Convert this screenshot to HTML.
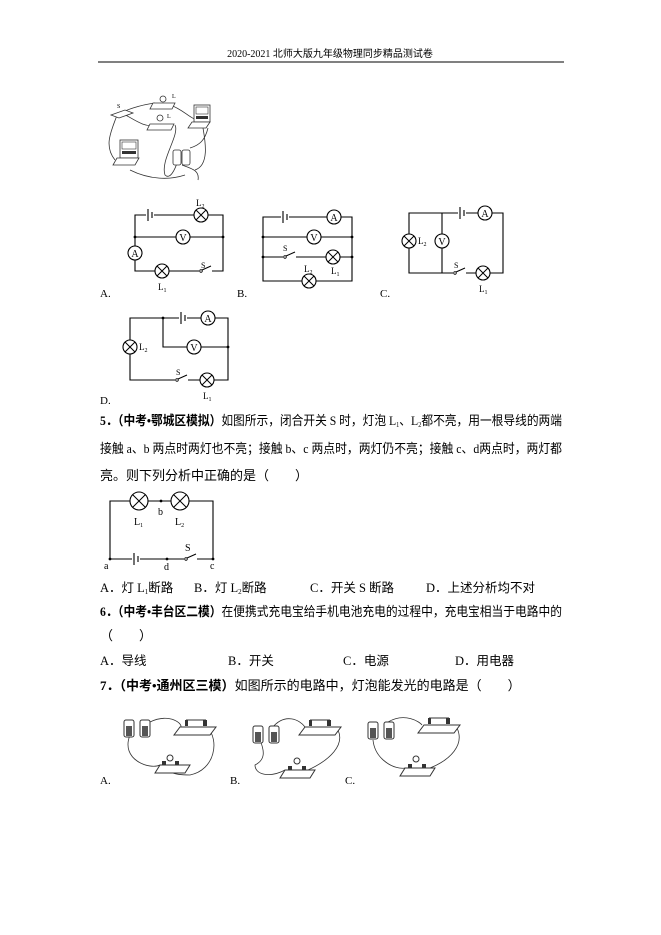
<!DOCTYPE html>
<html><head><meta charset="utf-8"><style>
html,body{margin:0;padding:0;background:#fff;}
svg{display:block;}
text{font-family:"Liberation Serif","Noto Serif CJK SC","Noto Sans CJK SC",serif;fill:#000;}
.cn{font-family:"Liberation Serif","Noto Sans CJK SC",sans-serif;}
.w{fill:none;stroke:#000;stroke-width:1.1;}
.g{fill:none;stroke:#333;stroke-width:0.8;}
</style></head><body>
<svg width="661" height="935" viewBox="0 0 661 935" xmlns="http://www.w3.org/2000/svg">
<defs>
<g id="lamp"><circle r="7" fill="#fff" stroke="#000" stroke-width="1.1"/><path d="M-5,-5L5,5M5,-5L-5,5" stroke="#000" stroke-width="1"/></g>
<g id="met"><circle r="7" fill="#fff" stroke="#000" stroke-width="1.1"/></g>
<g id="lampb"><circle r="9" fill="#fff" stroke="#000" stroke-width="1.1"/><path d="M-6.4,-6.4L6.4,6.4M6.4,-6.4L-6.4,6.4" stroke="#000" stroke-width="1"/></g>
<g id="bat"><rect x="-4" y="-6" width="8" height="12" fill="#fff"/><path d="M-2,-6V6M2,-3V3" stroke="#000" stroke-width="1.1"/></g>
<g id="sw"><rect x="0" y="-5" width="13" height="8" fill="#fff"/><circle cx="2" cy="0" r="1.3" fill="#fff" stroke="#000" stroke-width="0.8"/><path d="M3,-1L12,-5" stroke="#000" stroke-width="1"/></g>
</defs>

<text x="330" y="57" font-size="10" text-anchor="middle" class="cn">2020-2021 北师大版九年级物理同步精品测试卷</text>
<line x1="98" y1="62" x2="564" y2="62" stroke="#000" stroke-width="1"/>

<g>
<path class="g" d="M117,115 C125,110 140,105 155,103 M170,105 C185,110 190,120 200,120 M117,115 C112,130 103,145 115,160 M122,113 C135,120 145,128 155,125 M175,125 C180,135 160,160 165,175 C170,180 175,170 178,160 M208,128 C205,140 200,145 190,148 M203,128 C205,140 210,165 195,170 M130,170 C150,180 170,180 185,175 M182,165 C190,168 200,170 198,180"/>
<path d="M111,115 L125,110 L133,113 L119,118Z" fill="#fff" stroke="#333" stroke-width="0.8"/>
<path d="M153,103 L175,103 L172,109 L150,109Z" fill="#fff" stroke="#333" stroke-width="0.8"/>
<circle cx="163" cy="99" r="3" fill="#fff" stroke="#333" stroke-width="0.8"/>
<text x="172" y="98" font-size="6">L</text>
<path d="M150,124 L174,124 L171,130 L147,130Z" fill="#fff" stroke="#333" stroke-width="0.8"/>
<circle cx="160" cy="118" r="3" fill="#fff" stroke="#333" stroke-width="0.8"/>
<text x="167" y="118" font-size="6">L</text>
<text x="117" y="108" font-size="6">S</text>
<rect x="194" y="105" width="16" height="17" fill="#fff" stroke="#333" stroke-width="0.8"/>
<rect x="196" y="107" width="12" height="7" fill="#fff" stroke="#333" stroke-width="0.6"/>
<rect x="196" y="116" width="12" height="3" fill="#333"/>
<path d="M192,122 L210,122 L206,128 L188,128Z" fill="#fff" stroke="#333" stroke-width="0.8"/>
<rect x="120" y="140" width="18" height="18" fill="#fff" stroke="#333" stroke-width="0.8"/>
<rect x="122" y="142" width="14" height="7" fill="#fff" stroke="#333" stroke-width="0.6"/>
<rect x="122" y="151" width="14" height="3" fill="#333"/>
<path d="M117,158 L139,158 L135,165 L113,165Z" fill="#fff" stroke="#333" stroke-width="0.8"/>
<rect x="173" y="150" width="8" height="15" rx="2" fill="#fff" stroke="#333" stroke-width="0.8"/>
<rect x="182" y="150" width="8" height="15" rx="2" fill="#fff" stroke="#333" stroke-width="0.8"/>
</g>

<g>
<path class="w" d="M135,215H223V271H135ZM135,237H223"/>
<use href="#bat" x="150" y="215"/>
<use href="#lamp" x="201" y="215"/>
<use href="#met" x="183" y="237"/><text x="183" y="241" font-size="10" text-anchor="middle">V</text>
<use href="#met" x="135" y="253"/><text x="135" y="257" font-size="10" text-anchor="middle">A</text>
<use href="#lamp" x="162" y="271"/>
<use href="#sw" x="199" y="271"/>
<circle cx="135" cy="237" r="1.4"/><circle cx="223" cy="237" r="1.4"/>
<text x="196" y="206" font-size="9">L<tspan font-size="6" dy="2">2</tspan></text>
<text x="158" y="290" font-size="9">L<tspan font-size="6" dy="2">1</tspan></text>
<text x="201" y="268" font-size="8">S</text>
<text x="100" y="297" font-size="11">A.</text>
</g>

<g>
<path class="w" d="M263,217H352V281H263ZM263,237H352M263,257H352"/>
<use href="#bat" x="285" y="217"/>
<use href="#met" x="334" y="217"/><text x="334" y="221" font-size="10" text-anchor="middle">A</text>
<use href="#met" x="314" y="237"/><text x="314" y="241" font-size="10" text-anchor="middle">V</text>
<use href="#sw" x="283" y="257"/>
<use href="#lamp" x="333" y="257"/>
<use href="#lamp" x="309" y="281"/>
<circle cx="263" cy="237" r="1.4"/><circle cx="352" cy="237" r="1.4"/><circle cx="263" cy="257" r="1.4"/><circle cx="352" cy="257" r="1.4"/>
<text x="283" y="251" font-size="8">S</text>
<text x="304" y="272" font-size="9">L<tspan font-size="6" dy="2">2</tspan></text>
<text x="331" y="274" font-size="9">L<tspan font-size="6" dy="2">1</tspan></text>
<text x="237" y="297" font-size="11">B.</text>
</g>

<g>
<path class="w" d="M409,213H503V273H409ZM442,213V273"/>
<use href="#bat" x="462" y="213"/>
<use href="#met" x="485" y="213"/><text x="485" y="217" font-size="10" text-anchor="middle">A</text>
<use href="#lamp" x="409" y="241"/>
<use href="#met" x="442" y="241"/><text x="442" y="245" font-size="10" text-anchor="middle">V</text>
<text x="418" y="244" font-size="9">L<tspan font-size="6" dy="2">2</tspan></text>
<use href="#sw" x="453" y="273"/>
<use href="#lamp" x="483" y="273"/>
<text x="454" y="268" font-size="8">S</text>
<text x="479" y="292" font-size="9">L<tspan font-size="6" dy="2">1</tspan></text>
<text x="380" y="297" font-size="11">C.</text>
</g>

<g>
<path class="w" d="M130,318H228V380H130ZM163,318V347H228"/>
<use href="#bat" x="183" y="318"/>
<use href="#met" x="208" y="318"/><text x="208" y="322" font-size="10" text-anchor="middle">A</text>
<use href="#lamp" x="130" y="347"/>
<text x="139" y="350" font-size="9">L<tspan font-size="6" dy="2">2</tspan></text>
<use href="#met" x="194" y="347"/><text x="194" y="351" font-size="10" text-anchor="middle">V</text>
<circle cx="163" cy="318" r="1.4"/><circle cx="228" cy="347" r="1.4"/>
<use href="#sw" x="175" y="380"/>
<text x="176" y="375" font-size="8">S</text>
<use href="#lamp" x="207" y="380"/>
<text x="203" y="399" font-size="9">L<tspan font-size="6" dy="2">1</tspan></text>
<text x="100" y="404" font-size="11">D.</text>
</g>

<text x="100" y="425" font-size="13" class="cn" textLength="462" lengthAdjust="spacingAndGlyphs"><tspan font-weight="bold">5．（中考•鄂城区模拟）</tspan>如图所示，闭合开关 S 时，灯泡 L<tspan font-size="7" dy="2">1</tspan><tspan dy="-2">、L</tspan><tspan font-size="7" dy="2">2</tspan><tspan dy="-2">都不亮，用一根导线的两端</tspan></text>
<text x="100" y="453" font-size="13" class="cn" textLength="462" lengthAdjust="spacingAndGlyphs">接触 a、b 两点时两灯也不亮；接触 b、c 两点时，两灯仍不亮；接触 c、d两点时，两灯都</text>
<text x="100" y="480" font-size="13" class="cn">亮。则下列分析中正确的是（　　）</text>

<g>
<path class="w" d="M110,501H213V559H110Z"/>
<use href="#lampb" x="139" y="501"/>
<use href="#lampb" x="180" y="501"/>
<circle cx="161" cy="501" r="1.4"/>
<use href="#bat" x="136" y="559"/>
<circle cx="110" cy="559" r="1.4"/><circle cx="167" cy="559" r="1.4"/><circle cx="213" cy="559" r="1.4"/>
<use href="#sw" x="184" y="559"/>
<text x="158" y="515" font-size="10">b</text>
<text x="134" y="525" font-size="10">L<tspan font-size="6" dy="2">1</tspan></text>
<text x="175" y="525" font-size="10">L<tspan font-size="6" dy="2">2</tspan></text>
<text x="185" y="551" font-size="10">S</text>
<text x="104" y="569" font-size="10">a</text>
<text x="164" y="570" font-size="10">d</text>
<text x="210" y="569" font-size="10">c</text>
</g>

<text x="100" y="592" font-size="12.5" class="cn">A．灯 L<tspan font-size="7" dy="2">1</tspan><tspan dy="-2">断路</tspan></text>
<text x="194" y="592" font-size="12.5" class="cn">B．灯 L<tspan font-size="7" dy="2">2</tspan><tspan dy="-2">断路</tspan></text>
<text x="310" y="592" font-size="12.5" class="cn">C．开关 S 断路</text>
<text x="426" y="592" font-size="12.5" class="cn">D．上述分析均不对</text>

<text x="100" y="616" font-size="13" class="cn" textLength="462" lengthAdjust="spacingAndGlyphs"><tspan font-weight="bold">6．（中考•丰台区二模）</tspan>在便携式充电宝给手机电池充电的过程中，充电宝相当于电路中的</text>
<text x="100" y="640" font-size="13" class="cn">（　　）</text>
<text x="100" y="665" font-size="12.5" class="cn">A．导线</text>
<text x="228" y="665" font-size="12.5" class="cn">B．开关</text>
<text x="343" y="665" font-size="12.5" class="cn">C．电源</text>
<text x="455" y="665" font-size="12.5" class="cn">D．用电器</text>
<text x="100" y="690" font-size="13" class="cn"><tspan font-weight="bold">7．（中考•通州区三模）</tspan>如图所示的电路中，灯泡能发光的电路是（　　）</text>

<g>
<path class="g" d="M130,735 C120,760 150,770 160,765 M150,722 C170,712 185,725 180,728 M207,727 C220,740 215,770 190,775 C170,775 165,770 170,767"/>
<rect x="124" y="720" width="10" height="17" rx="2" fill="#fff" stroke="#333"/><rect x="126" y="726" width="6" height="10" fill="#555"/>
<rect x="140" y="720" width="10" height="17" rx="2" fill="#fff" stroke="#333"/><rect x="142" y="726" width="6" height="10" fill="#555"/>
<path d="M180,727 L216,727 L210,735 L174,735Z" fill="#fff" stroke="#333"/>
<rect x="185" y="720" width="3" height="6" fill="#333"/><rect x="203" y="720" width="4" height="6" fill="#333"/><path d="M186,720H206" stroke="#333"/>
<path d="M160,765 L190,765 L185,773 L155,773Z" fill="#fff" stroke="#333"/>
<circle cx="170" cy="758" r="3" fill="#fff" stroke="#333"/><rect x="162" y="761" width="4" height="4" fill="#333"/><rect x="175" y="761" width="4" height="4" fill="#333"/>
<text x="100" y="784" font-size="11">A.</text>
</g>
<g>
<path class="g" d="M260,740 C265,752 265,760 255,765 C255,775 270,778 285,770 M272,728 C285,712 300,720 305,727 M338,730 C345,745 330,760 308,770"/>
<rect x="253" y="726" width="10" height="17" rx="2" fill="#fff" stroke="#333"/><rect x="255" y="732" width="6" height="10" fill="#555"/>
<rect x="269" y="726" width="10" height="17" rx="2" fill="#fff" stroke="#333"/><rect x="271" y="732" width="6" height="10" fill="#555"/>
<path d="M305,727 L341,727 L335,735 L299,735Z" fill="#fff" stroke="#333"/>
<rect x="309" y="720" width="3" height="6" fill="#333"/><rect x="327" y="720" width="4" height="6" fill="#333"/><path d="M310,720H330" stroke="#333"/>
<path d="M285,770 L315,770 L310,778 L280,778Z" fill="#fff" stroke="#333"/>
<circle cx="297" cy="761" r="3" fill="#fff" stroke="#333"/><rect x="288" y="766" width="4" height="4" fill="#333"/><rect x="302" y="766" width="4" height="4" fill="#333"/>
<text x="230" y="784" font-size="11">B.</text>
</g>
<g>
<path class="g" d="M373,740 C375,760 395,770 405,768 M388,722 C405,712 420,722 422,725 M457,728 C465,745 450,760 430,768"/>
<rect x="368" y="722" width="10" height="17" rx="2" fill="#fff" stroke="#333"/><rect x="370" y="728" width="6" height="10" fill="#555"/>
<rect x="384" y="722" width="10" height="17" rx="2" fill="#fff" stroke="#333"/><rect x="386" y="728" width="6" height="10" fill="#555"/>
<path d="M424,725 L460,725 L454,733 L418,733Z" fill="#fff" stroke="#333"/>
<rect x="428" y="718" width="3" height="6" fill="#333"/><rect x="446" y="718" width="4" height="6" fill="#333"/><path d="M429,718H449" stroke="#333"/>
<path d="M405,768 L435,768 L430,776 L400,776Z" fill="#fff" stroke="#333"/>
<circle cx="416" cy="759" r="3" fill="#fff" stroke="#333"/><rect x="408" y="764" width="4" height="4" fill="#333"/><rect x="422" y="764" width="4" height="4" fill="#333"/>
<text x="345" y="784" font-size="11">C.</text>
</g>
</svg>
</body></html>
